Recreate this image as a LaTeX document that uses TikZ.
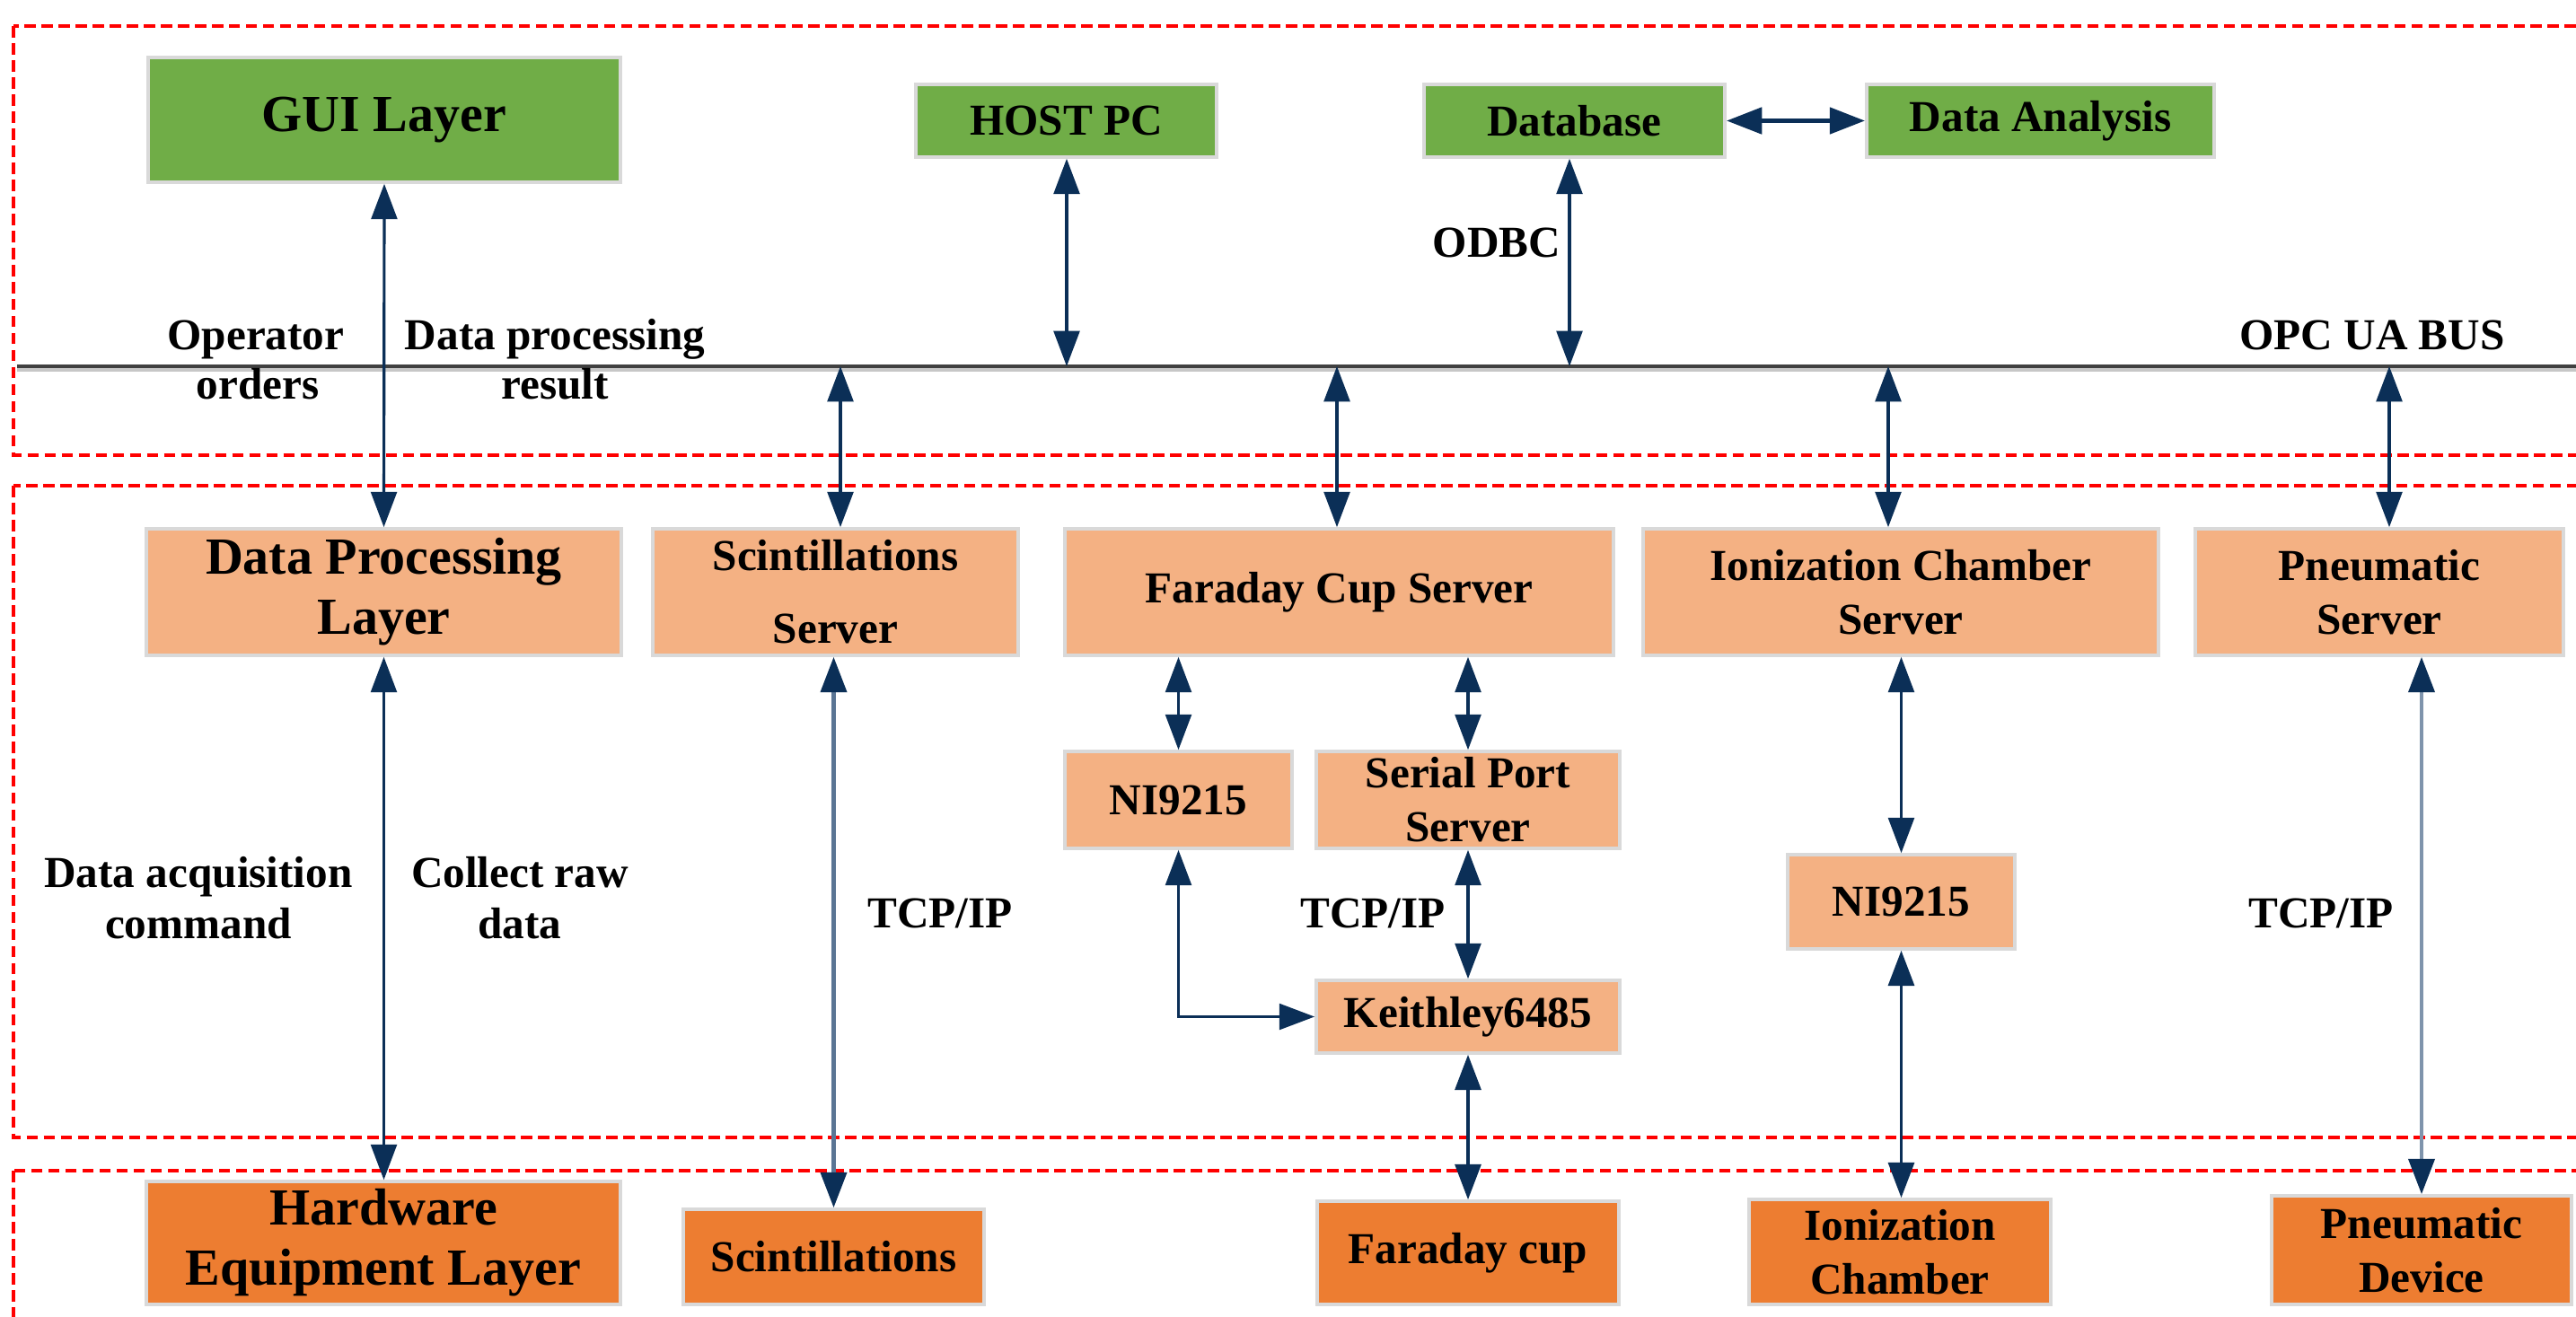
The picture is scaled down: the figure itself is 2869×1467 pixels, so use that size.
\documentclass[tikz,border=0pt]{standalone}
\usepackage{fontspec}
\setmainfont{Liberation Serif}
\usetikzlibrary{arrows.meta}
\definecolor{guigreen}{HTML}{70AD47}
\definecolor{lightor}{HTML}{F4B183}
\definecolor{darkor}{HTML}{ED7D31}
\definecolor{navy}{HTML}{0B2F57}
\definecolor{steel}{HTML}{5A7594}
\definecolor{steellight}{HTML}{7F94AC}
\definecolor{busgray}{HTML}{404040}
\tikzset{
  box/.style={draw=black!15, line width=1pt, inner sep=0pt, align=center, text=black,
    font=\bfseries\fontsize{14}{17}\selectfont},
  bigbox/.style={box, font=\bfseries\fontsize{16.5}{19}\selectfont},
  gbox/.style={box, fill=guigreen},
  lbox/.style={box, fill=lightor},
  dbox/.style={box, fill=darkor},
  layer/.style={draw=red, line width=1.1pt, dash pattern=on 3.6pt off 1.8pt},
  lbl/.style={font=\bfseries\fontsize{14}{17}\selectfont, inner sep=0pt, anchor=base},
  conn/.style={draw=navy, line width=0.9pt,
    {Triangle[width=8.2pt,length=11.2pt,color=navy]}-{Triangle[width=8.2pt,length=11.2pt,color=navy]}},
}
\begin{document}
\begin{tikzpicture}[x=0.01cm,y=-0.01cm]
\useasboundingbox (0,0) rectangle (2869,1467);
\fill[white] (0,0) rectangle (2869,1467);
% layer frames
\draw[layer] (15,29) rectangle (2920,507);
\draw[layer] (15,541) rectangle (2920,1267);
\draw[layer] (15,1304) rectangle (2920,1520);
% bus
\coordinate (busL) at (19,408);
\coordinate (busR) at (2900,408);
\draw[black!22, line width=1pt] ([yshift=-1.2pt]busL) -- ([yshift=-1.2pt]busR);
\draw[busgray, line width=1.1pt] (busL) -- (busR);
\coordinate (bh) at (1188,408);
\coordinate (bd) at (1748,408);
\coordinate (b1) at (936,408);
\coordinate (b2) at (1489,408);
\coordinate (b3) at (2103,408);
\coordinate (b4) at (2661,408);
% GUI layer row
\node[gbox, bigbox, fill=guigreen, minimum width=5.26cm, minimum height=1.39cm] (gui) at (428,133.5) {GUI Layer};
\node[gbox, minimum width=3.35cm, minimum height=0.81cm] (host) at (1187.5,134.5) {HOST PC};
\node[gbox, minimum width=3.35cm, minimum height=0.81cm] (db) at (1753.5,134.5) {Database};
\node[gbox, minimum width=3.87cm, minimum height=0.81cm] (da) at (2272.5,134.5) {Data Analysis};
% processing layer row
\node[lbox, bigbox, fill=lightor, minimum width=5.29cm, minimum height=1.41cm] (dpl) at (427.5,659.5) {Data Processing\\Layer};
\node[lbox, font=\bfseries\fontsize{14}{23}\selectfont, minimum width=4.07cm, minimum height=1.41cm] (scs) at (930.5,659.5) {Scintillations\\Server};
\node[lbox, minimum width=6.11cm, minimum height=1.41cm] (fcs) at (1491.5,659.5) {Faraday Cup Server};
\node[lbox, minimum width=5.74cm, minimum height=1.41cm] (ics) at (2117,659.5) {Ionization Chamber\\Server};
\node[lbox, minimum width=4.10cm, minimum height=1.41cm] (pns) at (2650,659.5) {Pneumatic\\Server};
\node[lbox, minimum width=2.53cm, minimum height=1.08cm] (ni1) at (1312.5,891) {NI9215};
\node[lbox, minimum width=3.38cm, minimum height=1.08cm] (sps) at (1635,891) {Serial Port\\Server};
\node[lbox, minimum width=3.38cm, minimum height=0.81cm] (kei) at (1635,1132.5) {Keithley6485};
\node[lbox, minimum width=2.53cm, minimum height=1.05cm] (nib) at (2117.5,1004.5) {NI9215};
% hardware layer row
\node[dbox, bigbox, fill=darkor, minimum width=5.28cm, minimum height=1.37cm] (hw) at (427,1384.5) {Hardware\\Equipment Layer};
\node[dbox, minimum width=3.35cm, minimum height=1.06cm] (scint) at (928.5,1400) {Scintillations};
\node[dbox, minimum width=3.36cm, minimum height=1.15cm] (fc) at (1635,1395.5) {Faraday cup};
\node[dbox, minimum width=3.36cm, minimum height=1.17cm] (ic) at (2116,1394.5) {Ionization\\Chamber};
\node[dbox, minimum width=3.34cm, minimum height=1.21cm] (pnd) at (2697,1392.5) {Pneumatic\\Device};
% labels
\node[lbl] (op1) at (285,390) {Operator};
\node[lbl] (op2) at (287,445) {orders};
\node[lbl] (dp1) at (618,390) {Data processing};
\node[lbl] (dp2) at (618,445) {result};
\node[lbl] (odbc) at (1667,287) {ODBC};
\node[lbl] (opc) at (2642,390) {OPC UA BUS};
\node[lbl] (da1) at (221,988) {Data acquisition};
\node[lbl] (da2) at (221,1045) {command};
\node[lbl] (cr1) at (579,988) {Collect raw};
\node[lbl] (cr2) at (579,1045) {data};
\node[lbl] (tcp1) at (1047,1033) {TCP/IP};
\node[lbl] (tcp2) at (1529,1033) {TCP/IP};
\node[lbl] (tcp3) at (2585,1033) {TCP/IP};
% connectors
\draw[conn] (gui.south) -- (dpl.north);
\draw[conn] (bh |- host.south) -- (bh);
\draw[conn] (bd |- db.south) -- (bd);
\draw[conn, line width=1.6pt] (db.east) -- (da.west);
\draw[conn] (b1) -- (b1 |- scs.north);
\draw[conn] (b2) -- (b2 |- fcs.north);
\draw[conn] (b3) -- (b3 |- ics.north);
\draw[conn] (b4) -- (b4 |- pns.north);
\draw[conn] (dpl.south) -- (dpl.south |- hw.north);
\draw[conn, draw=steel, line width=1.3pt] (scs.south -| scint.north) -- (scint.north);
\draw[conn] (ni1.north |- fcs.south) -- (ni1.north);
\draw[conn] (sps.north |- fcs.south) -- (sps.north);
\draw[conn] (sps.south) -- (kei.north);
\draw[conn] (ni1.south) |- (kei.west);
\draw[conn, line width=1.1pt] (kei.south) -- (fc.north);
\draw[conn] (nib.north |- ics.south) -- (nib.north);
\draw[conn, line width=1.1pt] (nib.south) -- (nib.south |- ic.north);
\draw[conn, draw=steellight, line width=1.3pt] (pnd.north |- pns.south) -- (pnd.north);
\end{tikzpicture}
\end{document}
